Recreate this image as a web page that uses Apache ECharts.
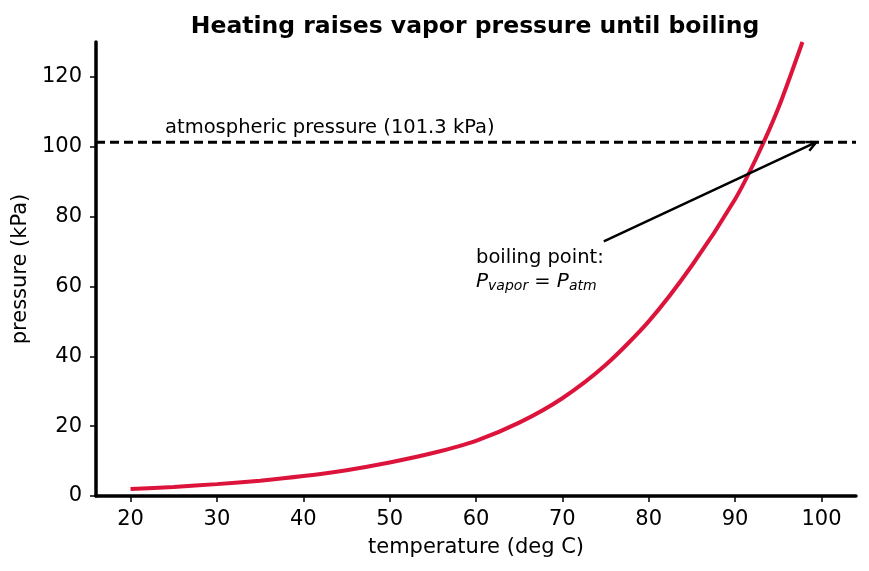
<!DOCTYPE html>
<html>
<head>
<meta charset="utf-8">
<script src="https://cdn.jsdelivr.net/npm/echarts@6/dist/echarts.min.js"></script>
<style>
    html, body { margin: 0; padding: 0; background: #fff; }
    #chart { width: 869px; height: 571px; }
</style>
</head>
<body>
<div id="chart"></div>
<script>
// temperature (deg C) and vapor pressure (kPa)
const temps = [20, 25, 30, 35, 40, 45, 50, 55, 60, 65, 70, 75, 80, 85, 90, 92.5, 95, 97.8];
const vaporKPa = [2.0, 2.6, 3.4, 4.4, 5.7, 7.4, 9.6, 12.3, 15.8, 21.0, 28.0, 37.5, 50.0, 66.0, 85.0, 97.0, 111.0, 130.0];

const atmKPa = 101.3;
const xRange = [16, 104];
const yRange = [0, 130];
const xTicks = [20, 30, 40, 50, 60, 70, 80, 90, 100];
const yTicks = [0, 20, 40, 60, 80, 100, 120];

// annotation anchors in data units
const atmLabelAt = [24, 105.4];
const boilLabelAt = [60, 60];
const arrowFrom = [74.8, 72.9];
const arrowTo = [99.4, atmKPa];

const FONT = 'DejaVu Sans';

let chart = echarts.init(document.getElementById('chart'));

let curve = temps.map((t, i) => [t, vaporKPa[i]]);

let option = {
    animation: false,
    backgroundColor: '#fff',
    title: {
        text: 'Heating raises vapor pressure until boiling',
        left: 470,
        textAlign: 'center',
        top: 10,
        textStyle: {
            fontFamily: FONT,
            fontSize: 23.5,
            fontWeight: 'bold',
            color: '#000'
        }
    },
    grid: {
        left: 96,
        right: 13,
        top: 42,
        bottom: 75
    },
    xAxis: {
        type: 'value',
        min: xRange[0],
        max: xRange[1],
        name: 'temperature (deg C)',
        nameLocation: 'middle',
        nameGap: 41,
        nameTextStyle: { fontFamily: FONT, fontSize: 21, color: '#000' },
        splitLine: { show: false },
        axisLine: { lineStyle: { color: '#000', width: 3.5 } },
        axisTick: {
            customValues: xTicks,
            length: 6,
            lineStyle: { color: '#000', width: 1.5 }
        },
        axisLabel: {
            customValues: xTicks,
            margin: 13,
            fontFamily: FONT,
            fontSize: 21,
            color: '#000'
        }
    },
    yAxis: {
        type: 'value',
        min: yRange[0],
        max: yRange[1],
        name: 'pressure (kPa)',
        nameLocation: 'middle',
        nameGap: 64,
        nameTextStyle: { fontFamily: FONT, fontSize: 21, color: '#000' },
        splitLine: { show: false },
        axisLine: { show: true, lineStyle: { color: '#000', width: 3.5 } },
        axisTick: {
            show: true,
            customValues: yTicks,
            length: 6,
            lineStyle: { color: '#000', width: 1.5 }
        },
        axisLabel: {
            customValues: yTicks,
            margin: 14,
            fontFamily: FONT,
            fontSize: 21,
            color: '#000'
        }
    },
    series: [
        {
            name: 'vapor pressure',
            type: 'line',
            data: curve,
            smooth: 0.25,
            symbol: 'none',
            clip: true,
            lineStyle: { color: '#dc143c', width: 4 },
            z: 2
        },
        {
            name: 'atmospheric',
            type: 'line',
            data: [[xRange[0], atmKPa], [xRange[1], atmKPa]],
            symbol: 'none',
            lineStyle: { color: '#000', width: 3, type: [9, 5] },
            z: 3
        },
        {
            // arrow from the label to the boiling point
            type: 'custom',
            data: [[arrowFrom[0], arrowFrom[1], arrowTo[0], arrowTo[1]]],
            z: 4,
            renderItem: function(params, api) {
                let p0 = api.coord([api.value(0), api.value(1)]);
                let p1 = api.coord([api.value(2), api.value(3)]);
                let ang = Math.atan2(p1[1] - p0[1], p1[0] - p0[0]);
                let len = 11, spread = 0.45;
                let h1 = [p1[0] - len * Math.cos(ang - spread), p1[1] - len * Math.sin(ang - spread)];
                let h2 = [p1[0] - len * Math.cos(ang + spread), p1[1] - len * Math.sin(ang + spread)];
                return {
                    type: 'group',
                    children: [
                        {
                            type: 'line',
                            shape: { x1: p0[0], y1: p0[1], x2: p1[0], y2: p1[1] },
                            style: { stroke: '#000', lineWidth: 2.5 }
                        },
                        {
                            type: 'polyline',
                            shape: { points: [h1, p1, h2] },
                            style: { stroke: '#000', lineWidth: 2.5, fill: null }
                        }
                    ]
                };
            }
        },
        {
            // text annotations
            type: 'custom',
            data: [[atmLabelAt[0], atmLabelAt[1], 0], [boilLabelAt[0], boilLabelAt[1], 1]],
            z: 5,
            renderItem: function(params, api) {
                let p = api.coord([api.value(0), api.value(1)]);
                if (api.value(2) === 0) {
                    return {
                        type: 'text',
                        x: p[0],
                        y: p[1],
                        style: {
                            text: 'atmospheric pressure (101.3 kPa)',
                            fontFamily: FONT,
                            fontSize: 19.5,
                            fill: '#000',
                            align: 'left',
                            verticalAlign: 'middle'
                        }
                    };
                }
                return {
                    type: 'text',
                    x: p[0],
                    y: p[1] + 7,
                    style: {
                        text: '{n|boiling point:}\n{i|P}{s|vapor}{n| = }{i|P}{s|atm}',
                        fontFamily: FONT,
                        fontSize: 19.5,
                        fill: '#000',
                        align: 'left',
                        verticalAlign: 'bottom',
                        rich: {
                            n: { fontFamily: FONT, fontSize: 19.5, lineHeight: 24, fill: '#000' },
                            i: { fontFamily: FONT, fontSize: 20, fontStyle: 'italic', lineHeight: 24, fill: '#000' },
                            s: { fontFamily: FONT, fontSize: 14, fontStyle: 'italic', lineHeight: 15, verticalAlign: 'bottom', fill: '#000' }
                        }
                    }
                };
            }
        }
    ]
};

chart.setOption(option);
window.addEventListener('resize', () => {
    chart.resize();
});
</script>
</body>
</html>
